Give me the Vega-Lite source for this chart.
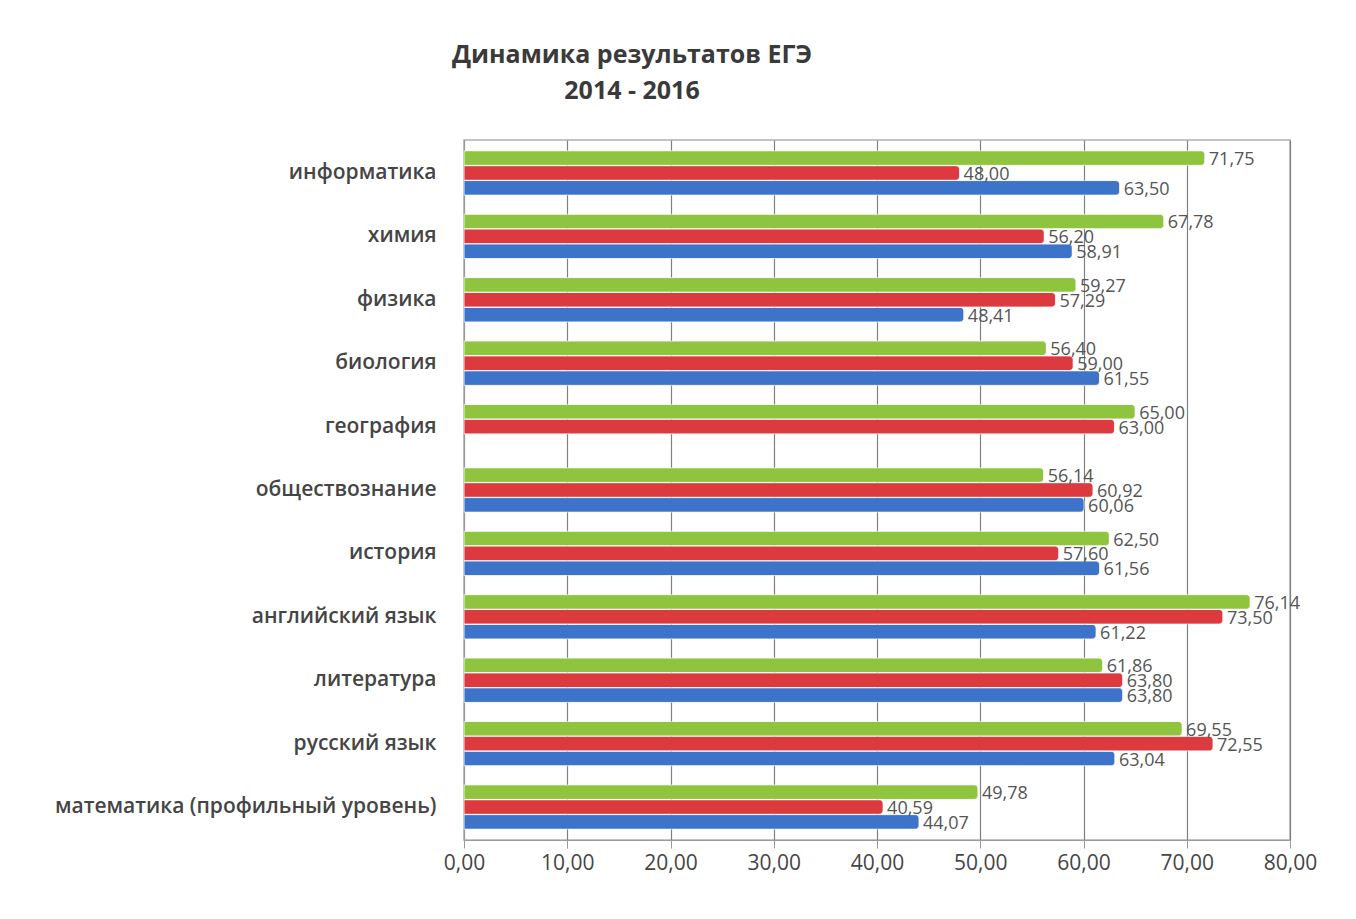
{
  "$schema": "https://vega.github.io/schema/vega-lite/v6.json",
  "autosize": "none",
  "width": 826,
  "height": 700,
  "padding": {"left": 464, "top": 140, "right": 66, "bottom": 79},
  "background": "white",
  "title": {
    "text": ["Динамика результатов ЕГЭ", "2014 - 2016"],
    "font": "Open Sans",
    "fontSize": 25,
    "fontWeight": "bold",
    "color": "#3a3a3a",
    "lineHeight": 36,
    "anchor": "middle",
    "frame": "group",
    "dx": -245,
    "offset": 36
  },
  "data": {
    "values": [
      {"subject": "информатика", "year": "2016", "value": 71.75},
      {"subject": "информатика", "year": "2015", "value": 48.00},
      {"subject": "информатика", "year": "2014", "value": 63.50},
      {"subject": "химия", "year": "2016", "value": 67.78},
      {"subject": "химия", "year": "2015", "value": 56.20},
      {"subject": "химия", "year": "2014", "value": 58.91},
      {"subject": "физика", "year": "2016", "value": 59.27},
      {"subject": "физика", "year": "2015", "value": 57.29},
      {"subject": "физика", "year": "2014", "value": 48.41},
      {"subject": "биология", "year": "2016", "value": 56.40},
      {"subject": "биология", "year": "2015", "value": 59.00},
      {"subject": "биология", "year": "2014", "value": 61.55},
      {"subject": "география", "year": "2016", "value": 65.00},
      {"subject": "география", "year": "2015", "value": 63.00},
      {"subject": "обществознание", "year": "2016", "value": 56.14},
      {"subject": "обществознание", "year": "2015", "value": 60.92},
      {"subject": "обществознание", "year": "2014", "value": 60.06},
      {"subject": "история", "year": "2016", "value": 62.50},
      {"subject": "история", "year": "2015", "value": 57.60},
      {"subject": "история", "year": "2014", "value": 61.56},
      {"subject": "английский язык", "year": "2016", "value": 76.14},
      {"subject": "английский язык", "year": "2015", "value": 73.50},
      {"subject": "английский язык", "year": "2014", "value": 61.22},
      {"subject": "литература", "year": "2016", "value": 61.86},
      {"subject": "литература", "year": "2015", "value": 63.80},
      {"subject": "литература", "year": "2014", "value": 63.80},
      {"subject": "русский язык", "year": "2016", "value": 69.55},
      {"subject": "русский язык", "year": "2015", "value": 72.55},
      {"subject": "русский язык", "year": "2014", "value": 63.04},
      {"subject": "математика (профильный уровень)", "year": "2016", "value": 49.78},
      {"subject": "математика (профильный уровень)", "year": "2015", "value": 40.59},
      {"subject": "математика (профильный уровень)", "year": "2014", "value": 44.07}
    ]
  },
  "encoding": {
    "y": {
      "field": "subject",
      "type": "nominal",
      "sort": null,
      "scale": {"paddingInner": 0.3, "paddingOuter": 0.17},
      "axis": {
        "title": null,
        "labelFont": "Open Sans",
        "labelFontSize": 21,
        "labelFontWeight": 600,
        "labelColor": "#454545",
        "labelPadding": 28,
        "labelLimit": 500,
        "domain": true,
        "domainColor": "#9a9a9a",
        "ticks": false,
        "grid": false
      }
    },
    "yOffset": {
      "field": "year",
      "type": "nominal",
      "sort": ["2016", "2015", "2014"],
      "scale": {"paddingInner": 0.02}
    },
    "x": {
      "field": "value",
      "type": "quantitative",
      "scale": {"domain": [0, 80], "nice": false},
      "axis": {
        "title": null,
        "values": [0, 10, 20, 30, 40, 50, 60, 70, 80],
        "format": ".2f",
        "labelFlush": false,
        "labelFont": "Open Sans",
        "labelFontSize": 21,
        "labelColor": "#454545",
        "labelPadding": 4,
        "grid": true,
        "gridColor": "#808080",
        "gridWidth": 1.2,
        "domainColor": "#9a9a9a",
        "tickColor": "#9a9a9a",
        "tickSize": 8
      }
    }
  },
  "layer": [
    {
      "mark": {"type": "bar", "cornerRadiusEnd": 4, "stroke": "#ffffff", "strokeWidth": 0.5},
      "encoding": {
        "color": {
          "field": "year",
          "type": "nominal",
          "scale": {"domain": ["2014", "2015", "2016"], "range": ["#3d74c9", "#dc3a3f", "#8fc43f"]},
          "legend": null
        }
      }
    },
    {
      "mark": {"type": "text", "align": "left", "baseline": "middle", "dx": 4, "dy": 2, "font": "Open Sans", "fontSize": 18, "color": "#555555"},
      "encoding": {
        "text": {"field": "value", "type": "quantitative", "format": ".2f"}
      }
    }
  ],
  "config": {
    "locale": {
      "number": {"decimal": ",", "thousands": " ", "grouping": [3], "currency": ["", ""]}
    },
    "view": {"stroke": "#b0b0b0", "strokeWidth": 1.5}
  }
}
